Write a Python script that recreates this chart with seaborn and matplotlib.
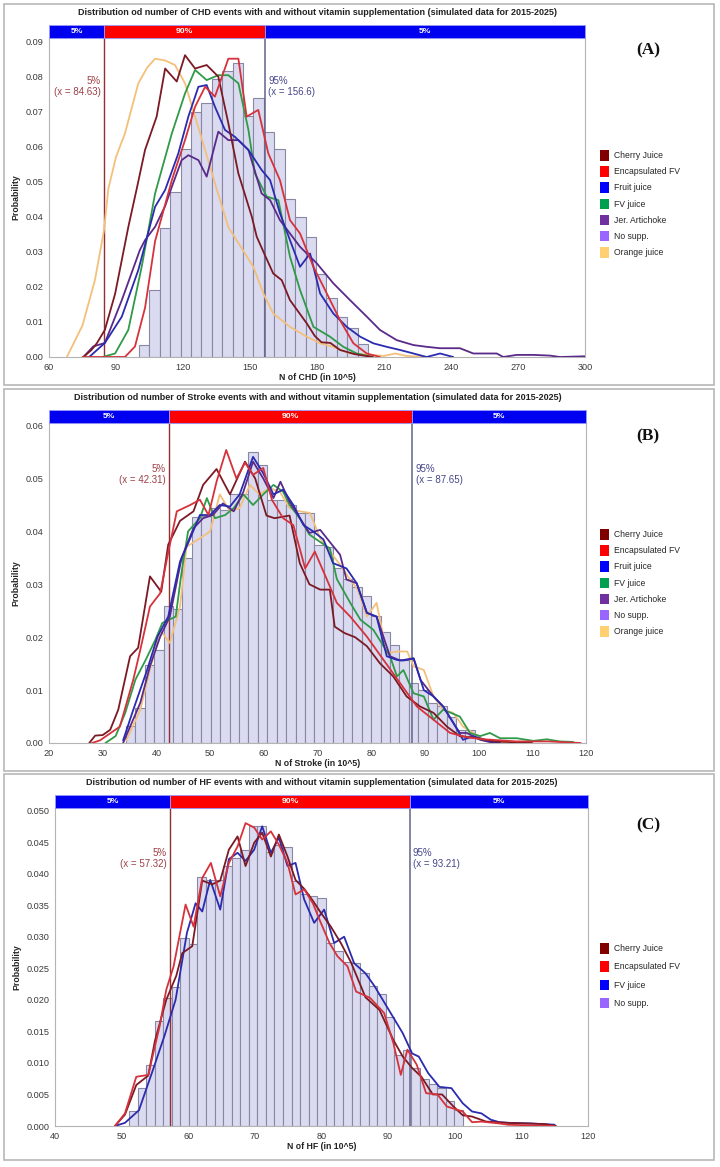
import numpy as np
import pandas as pd
import matplotlib
matplotlib.use("Agg")
import matplotlib.pyplot as plt
import matplotlib.transforms as mtransforms
from matplotlib.patches import Patch, Rectangle
import seaborn as sns

sns.set_theme(style="white")
plt.rcParams['font.family'] = ['Liberation Sans', 'DejaVu Sans']

# ---------------- Panel A : CHD ----------------
A_title = "Distribution od number of CHD events with and without vitamin supplementation (simulated data for 2015-2025)"
A_xlabel = "N of CHD (in 10^5)"
A_p5, A_p95 = 84.63, 156.6
A_bin_start, A_bin_width = 100.3, 4.66
A_nosupp = [0.0035, 0.019, 0.0368, 0.047, 0.0593, 0.0699, 0.0723, 0.0792, 0.0815, 0.0838, 0.0687,
            0.0737, 0.0642, 0.0593, 0.045, 0.0398, 0.0343, 0.0236, 0.0167, 0.0115, 0.0082, 0.0037]
A_cherry_x = [75.4, 79, 81.4, 85, 89.6, 95.5, 99.3, 103, 108.2, 112, 117.2, 120.9, 125.4, 130.6, 135.8,
              140.3, 144.8, 150.8, 153, 156.7, 160.4, 164.2, 167.9, 175.4, 179, 182, 186, 190.3, 197, 205]
A_cherry_y = [0, 0.002, 0.0039, 0.0077, 0.018, 0.037, 0.048, 0.059, 0.0685, 0.0822, 0.0785, 0.086, 0.0822,
              0.0832, 0.0799, 0.0666, 0.0523, 0.040, 0.0343, 0.029, 0.0238, 0.0219, 0.0162, 0.0096, 0.006,
              0.0042, 0.004, 0.002, 0.0008, 0]
A_enc_x = [75, 94, 98.5, 103, 107.5, 115, 120.9, 125.4, 129.9, 134.3, 140.3, 144.8, 148.5, 153.7, 158.2,
           163.4, 167.9, 172.4, 178.4, 184.4, 190.3, 196.3, 202.3, 208.2]
A_enc_y = [0, 0, 0.003, 0.014, 0.033, 0.0504, 0.0618, 0.0713, 0.077, 0.0742, 0.085, 0.085, 0.0685, 0.0704,
           0.058, 0.0504, 0.039, 0.0352, 0.0257, 0.0181, 0.0105, 0.0039, 0.001, 0]
A_fruit_x = [78, 85, 92.6, 100, 107.5, 112, 117.9, 122.4, 126.9, 130.6, 134.3, 138.8, 143.3, 149.3, 155.2,
             159, 163.4, 167.9, 172.4, 176.9, 181.4, 187.3, 193.3, 199.3, 205.2, 211.2, 217.2, 223.2, 229.1,
             235.1, 241]
A_fruit_y = [0, 0.004, 0.0115, 0.0248, 0.0428, 0.0476, 0.058, 0.0685, 0.077, 0.0775, 0.0713, 0.0647, 0.0627,
             0.059, 0.0533, 0.0504, 0.041, 0.0333, 0.0257, 0.0295, 0.0181, 0.0124, 0.0086, 0.0058, 0.0039,
             0.0029, 0.002, 0.001, 0, 0.001, 0]
A_fv_x = [84, 89.6, 95.5, 101.5, 107.5, 115, 120.9, 125.4, 130.6, 135.8, 140.3, 144.8, 149.3, 152.2, 157.5,
          162.7, 167.9, 172.4, 178.4, 185.8, 191.8, 197.8, 205]
A_fv_y = [0, 0.001, 0.0077, 0.0257, 0.0466, 0.0637, 0.0751, 0.0818, 0.0789, 0.0803, 0.0803, 0.078, 0.0647,
          0.0523, 0.0457, 0.0447, 0.0286, 0.0191, 0.0086, 0.0058, 0.0029, 0.001, 0]
A_jer_x = [75.4, 79.8, 85, 92.6, 100.7, 103, 107.5, 112, 115, 119.4, 122.4, 126.9, 130.6, 135.8, 140.3, 144.8,
           149.3, 155.2, 159, 163.4, 172.4, 179.9, 187.3, 194.8, 202.3, 208.2, 215.7, 223.2, 229.1, 235.1,
           244, 250, 256, 260.5, 263.4, 269.4, 276.9, 284.3, 288.8, 300]
A_jer_y = [0, 0.003, 0.004, 0.0162, 0.0305, 0.0333, 0.0371, 0.043, 0.0485, 0.0561, 0.0575, 0.0561, 0.0514,
           0.0642, 0.0618, 0.0618, 0.059, 0.0466, 0.0447, 0.039, 0.0314, 0.0267, 0.021, 0.0162, 0.0115,
           0.0077, 0.0048, 0.0034, 0.0029, 0.0025, 0.0025, 0.001, 0.001, 0.001, 0, 0.0006, 0.0006, 0.0004,
           0, 0.0002]
A_orange_x = [68, 75, 80.6, 84.6, 86.6, 90, 94, 100, 104, 107.5, 112, 116.4, 120.9, 125.4, 129.9, 134.3,
              140.3, 146.3, 151.5, 156, 160.4, 167.9, 175.4, 181.4, 187.3, 194.8, 200, 210, 215, 220, 230]
A_orange_y = [0, 0.009, 0.022, 0.036, 0.048, 0.057, 0.0637, 0.078, 0.0825, 0.085, 0.0845, 0.0832, 0.078,
              0.0685, 0.059, 0.0495, 0.037, 0.031, 0.0257, 0.0181, 0.0124, 0.0086, 0.0058, 0.0039, 0.0029,
              0.001, 0.0008, 0.0003, 0.001, 0.0003, 0]

# ---------------- Panel B : Stroke ----------------
B_title = "Distribution od number of Stroke events with and without vitamin supplementation (simulated data for 2015-2025)"
B_xlabel = "N of Stroke (in 10^5)"
B_p5, B_p95 = 42.31, 87.65
B_bin_start, B_bin_width = 34.3, 1.757
B_nosupp = [0.0033, 0.0067, 0.0148, 0.0176, 0.0259, 0.0253, 0.035, 0.0428, 0.043, 0.0445, 0.044, 0.047,
            0.047, 0.055, 0.0525, 0.046, 0.046, 0.045, 0.0435, 0.0435, 0.0375, 0.037, 0.033, 0.031, 0.0295,
            0.0277, 0.024, 0.021, 0.0185, 0.0157, 0.0113, 0.01, 0.0076, 0.007, 0.005, 0.0025, 0.0024]
B_cherry_x = [27.5, 28.6, 30, 31.4, 32.9, 35.1, 36.6, 38.8, 40.9, 42.2, 44.4, 46.9, 48.7, 51.2, 53.7, 56.5,
              58.4, 60.5, 62, 64.8, 66.7, 68.5, 70.5, 72.3, 73.2, 75, 77, 79.2, 81.6, 84.1, 86.6, 89.1, 91.6,
              94.1, 96.5, 99, 103, 110]
B_cherry_y = [0, 0.0014, 0.0015, 0.0025, 0.0063, 0.0164, 0.018, 0.0315, 0.0286, 0.0375, 0.042, 0.0438,
              0.0488, 0.0518, 0.047, 0.0532, 0.05, 0.043, 0.0425, 0.043, 0.034, 0.03, 0.029, 0.029, 0.022,
              0.0208, 0.02, 0.0183, 0.0151, 0.0126, 0.0088, 0.0069, 0.0057, 0.0031, 0.0013, 0.001, 0.0003, 0]
B_enc_x = [28, 29.5, 33.2, 35.7, 37, 38.8, 40.7, 42.2, 43.8, 46.3, 48.1, 49.7, 51.2, 53, 54.9, 56.5, 58,
           59.9, 61.5, 63.6, 65.5, 67.7, 69.5, 72.3, 73.6, 76.1, 79.2, 82.3, 85.4, 88.5, 91.6, 94.7, 97.8,
           101, 104, 107, 113, 119]
B_enc_y = [0, 0.0005, 0.0031, 0.012, 0.0176, 0.0258, 0.0283, 0.036, 0.0438, 0.045, 0.046, 0.0431, 0.0494,
           0.0554, 0.05, 0.053, 0.0507, 0.052, 0.046, 0.0425, 0.0412, 0.033, 0.0362, 0.0296, 0.0265, 0.0239,
           0.0201, 0.0157, 0.0113, 0.0069, 0.0044, 0.0019, 0.0011, 0.0007, 0.0005, 0.0003, 0.0003, 0]
B_fruit_x = [33.8, 35.7, 38.3, 40.2, 42.2, 44.4, 46.3, 48.1, 50, 51.8, 53.7, 55.5, 58, 59.9, 61.8, 63.6,
             65.5, 67.4, 69.2, 71.1, 72.9, 75.4, 77.3, 79.2, 81, 82.9, 84.8, 86, 87.9, 89.8, 91.6, 93.4,
             95.3, 97.1, 99, 101.5, 104]
B_fruit_y = [0.0005, 0.0063, 0.0139, 0.0201, 0.0239, 0.0343, 0.0387, 0.0431, 0.0431, 0.045, 0.0447, 0.047,
             0.0541, 0.051, 0.047, 0.0479, 0.045, 0.0412, 0.04, 0.0385, 0.034, 0.033, 0.0302, 0.0246, 0.0239,
             0.0164, 0.0157, 0.0156, 0.016, 0.01, 0.0088, 0.0069, 0.0038, 0.0006, 0.0013, 0.0005, 0]
B_fv_x = [30.5, 32.4, 34.2, 36.1, 38, 39.8, 41.1, 43.6, 44.7, 45.9, 48.1, 49.4, 50.9, 52.8, 54.4, 56.2, 58,
          59.9, 61.8, 63.6, 64.8, 66.7, 68.5, 70.5, 72.3, 73.6, 76.1, 78, 80.4, 82.3, 83.5, 84.8, 86, 87.9,
          89.8, 91.6, 93.4, 96.5, 98.4, 100.3, 102.1, 104, 107.1, 110.2, 112.7, 115.1, 117.6]
B_fv_y = [0, 0.0013, 0.0057, 0.012, 0.0157, 0.0195, 0.0227, 0.0239, 0.0324, 0.04, 0.0425, 0.0463, 0.0425,
          0.0431, 0.0444, 0.047, 0.045, 0.047, 0.0488, 0.0475, 0.045, 0.0425, 0.0394, 0.038, 0.0368, 0.031,
          0.0265, 0.0233, 0.0214, 0.0183, 0.0164, 0.0126, 0.0138, 0.0094, 0.0088, 0.0044, 0.0063, 0.005,
          0.0019, 0.0013, 0.0019, 0.0009, 0.0009, 0.0004, 0.0007, 0.0003, 0.0002]
B_jer_x = [33.8, 37, 38.8, 40.7, 42.5, 44.7, 46.9, 48.7, 50.5, 52.4, 54.4, 56.2, 58, 59.9, 61.8, 63.1,
           64.8, 66.7, 68.5, 70.5, 72.3, 74.2, 75.4, 77.3, 79.2, 81, 83.5, 85.4, 87.9, 89.2, 91.6, 93.4,
           95.3, 96.5, 97.8, 100.3, 102.8]
B_jer_y = [0, 0.0076, 0.0145, 0.0201, 0.0239, 0.035, 0.0406, 0.0425, 0.0431, 0.0453, 0.0438, 0.0475,
           0.0532, 0.05, 0.0463, 0.0494, 0.0456, 0.0425, 0.0397, 0.0403, 0.038, 0.0356, 0.0309, 0.0302,
           0.0246, 0.0239, 0.0164, 0.0156, 0.016, 0.0119, 0.0088, 0.0069, 0.0038, 0.0019, 0.0019, 0.0006, 0]
B_orange_x = [34.4, 37, 38.8, 40.7, 42.5, 44.4, 45.6, 48.1, 50, 51.8, 53.7, 55.5, 57.4, 59.2, 61.1, 63,
              64.8, 66.7, 68.6, 70.5, 72.3, 74.2, 76, 77.5, 79.2, 81, 82.9, 84.8, 86.7, 87.9, 89.8, 91.6,
              93.4, 95.3, 97.1, 99, 100.9, 104, 108]
B_orange_y = [0.0005, 0.0063, 0.0139, 0.0214, 0.0189, 0.0258, 0.0371, 0.0387, 0.04, 0.047, 0.0438, 0.0444,
              0.0488, 0.047, 0.0482, 0.0475, 0.0444, 0.0438, 0.0435, 0.0387, 0.0362, 0.0337, 0.031, 0.029,
              0.0239, 0.0265, 0.017, 0.0173, 0.0173, 0.0145, 0.0138, 0.0088, 0.0063, 0.0057, 0.0031, 0.0019,
              0.0006, 0.0001, 0]

# ---------------- Panel C : HF ----------------
C_title = "Distribution od number of HF events with and without vitamin supplementation (simulated data for 2015-2025)"
C_xlabel = "N of HF (in 10^5)"
C_p5, C_p95 = 57.32, 93.21
C_bin_start, C_bin_width = 51.1, 1.285
C_nosupp = [0.0023, 0.006, 0.0096, 0.0167, 0.0203, 0.0221, 0.0298, 0.0288, 0.0395, 0.039, 0.039, 0.0412,
            0.0425, 0.0438, 0.0475, 0.0475, 0.0435, 0.0446, 0.0442, 0.0388, 0.0367, 0.0365, 0.0362, 0.029,
            0.0277, 0.026, 0.0259, 0.0242, 0.0222, 0.021, 0.0173, 0.0113, 0.012, 0.0092, 0.0075, 0.0066,
            0.006, 0.0039, 0.0025]
C_cherry_x = [49, 50.5, 52.2, 54, 55, 56.7, 58.2, 59.1, 60.6, 62.1, 63.6, 64.8, 66.1, 67.4, 68.6, 69.9, 71.1,
              72.4, 73.6, 74.9, 76.1, 77.4, 78.7, 79.9, 81.4, 82.9, 84.4, 86.6, 88.7, 90.8, 92.2, 93.6, 95,
              96.7, 98.1, 99.8, 101.2, 102.6, 104.7, 108, 113.6, 115.2]
C_cherry_y = [0, 0.0018, 0.0065, 0.008, 0.0135, 0.02, 0.0238, 0.0274, 0.0285, 0.0389, 0.0383, 0.0389,
              0.0438, 0.0459, 0.0412, 0.0449, 0.0465, 0.0427, 0.0462, 0.0427, 0.039, 0.0376, 0.0357, 0.0338,
              0.0316, 0.029, 0.026, 0.0204, 0.0184, 0.0136, 0.011, 0.0092, 0.0078, 0.005, 0.005, 0.0031,
              0.0017, 0.0015, 0.0007, 0.0005, 0.0003, 0]
C_enc_x = [49, 50.5, 52.2, 54, 55.7, 56.7, 57.8, 59.6, 60.8, 62.1, 63.4, 64.8, 66.1, 67.4, 68.6, 69.9, 71.1,
           72.4, 73.6, 74.9, 76.1, 77.4, 78.7, 79.9, 81.2, 82.4, 83.9, 85.2, 87.3, 89.4, 90.8, 91.9, 92.9,
           94.3, 95.7, 97.4, 98.8, 101.2, 102.6, 104, 106.7, 108, 115]
C_enc_y = [0, 0.002, 0.0078, 0.0081, 0.0158, 0.0216, 0.0253, 0.0351, 0.0316, 0.0393, 0.0417, 0.0364,
           0.0417, 0.0443, 0.048, 0.0473, 0.0454, 0.0467, 0.0446, 0.0417, 0.0367, 0.0375, 0.0353, 0.0322,
           0.029, 0.0269, 0.0253, 0.0213, 0.0203, 0.0179, 0.0131, 0.0081, 0.0121, 0.0097, 0.0052, 0.005,
           0.0031, 0.0023, 0.0006, 0.0007, 0.0004, 0.0002, 0]
C_fv_x = [49, 50.5, 52.6, 54.7, 56.4, 58.1, 59.8, 61.1, 62.1, 63.3, 64.8, 66.1, 67.4, 68.6, 69.9, 71.1, 72.4,
          73.6, 74.9, 76.1, 77.4, 78.9, 80.4, 81.9, 83.4, 84.9, 86.6, 88, 90.1, 92.2, 93.6, 94.6, 96, 97.7,
          99.5, 101.2, 102.6, 104, 105.4, 106.7, 108.1, 111.5, 115]
C_fv_y = [0, 0.0005, 0.0025, 0.0089, 0.0142, 0.02, 0.0306, 0.0353, 0.034, 0.039, 0.0343, 0.0423, 0.0433,
          0.042, 0.0438, 0.0475, 0.0433, 0.0457, 0.0412, 0.0417, 0.0359, 0.0322, 0.0343, 0.029, 0.03, 0.0258,
          0.0242, 0.0221, 0.0184, 0.0147, 0.0115, 0.011, 0.0084, 0.0062, 0.006, 0.0036, 0.0023, 0.002,
          0.001, 0.0006, 0.0005, 0.0004, 0.0002]

# ---------------- styling ----------------
line_colors = {"Cherry Juice": "#7b1a24", "Encapsulated FV": "#d5323c", "Fruit juice": "#2b2bb0",
               "FV juice": "#2f9a48", "Jer. Artichoke": "#5a2a8a", "Orange juice": "#f3c07c"}
legend_colors = {"Cherry Juice": "#800000", "Encapsulated FV": "#ff0000", "Fruit juice": "#0000ff",
                 "FV juice": "#00a050", "Jer. Artichoke": "#7030a0", "No supp.": "#9966ff",
                 "Orange juice": "#ffd070"}
C_line_colors = {"Cherry Juice": "#7b1a24", "Encapsulated FV": "#d5323c", "FV juice": "#2b2bb0"}
C_legend_colors = {"Cherry Juice": "#800000", "Encapsulated FV": "#ff0000", "FV juice": "#0000ff",
                   "No supp.": "#9966ff"}

W, H = 720, 1167
fig = plt.figure(figsize=(W / 100, H / 100), dpi=100)


def fig_rect(l, t, r, b):
    return [l / W, 1 - b / H, (r - l) / W, (b - t) / H]


def draw_panel(box, xlim, ylim, xticks, yticks, yfmt, title, xlabel, p5, p95,
               bin_start, bin_width, hist, lines, band_h):
    ax = fig.add_axes(fig_rect(*box))
    centers = bin_start + bin_width * (np.arange(len(hist)) + 0.5)
    hdf = pd.DataFrame({"x": np.round(centers, 4), "w": np.asarray(hist, float)})
    sns.barplot(data=hdf, x="x", y="w", native_scale=True, width=1.0, errorbar=None, ax=ax,
                color="#dadaf0", saturation=1, edgecolor="#8888a4", linewidth=0.8)
    ax.axvline(p5, color="#8e3036", lw=1.0, zorder=3)
    ax.axvline(p95, color="#62628a", lw=1.1, zorder=3)
    for color, (xs, ys) in lines.items():
        ldf = pd.DataFrame({"x": xs, "y": ys})
        sns.lineplot(data=ldf, x="x", y="y", ax=ax, color=color, lw=1.3, sort=False,
                     estimator=None, legend=False, zorder=4)
    ax.set_xlim(*xlim)
    ax.set_ylim(*ylim)
    ax.set_xticks(xticks)
    ax.set_xticklabels([str(int(v)) for v in xticks])
    ax.set_yticks(yticks)
    ax.set_yticklabels([yfmt % v for v in yticks])
    ax.tick_params(axis="both", length=0, labelsize=6.6, colors="#3a3a3a", pad=4)
    for s in ax.spines.values():
        s.set_visible(True)
        s.set_color("#b4b4b4")
        s.set_linewidth(0.8)
    ax.set_xlabel(xlabel, fontsize=6.3, fontweight="bold", color="#222222", labelpad=1)
    ax.set_ylabel("Probability", fontsize=6.3, fontweight="bold", color="#222222", labelpad=4)
    tr = mtransforms.blended_transform_factory(ax.transData, ax.transAxes)
    segs = [(xlim[0], p5, "#0000f0", "5%"), (p5, p95, "#ff0000", "90%"), (p95, xlim[1], "#0000f0", "5%")]
    for x0, x1, c, lab in segs:
        ax.add_patch(Rectangle((x0, 1.0), x1 - x0, band_h, transform=tr, clip_on=False,
                               facecolor=c, edgecolor="#9a9aff", lw=0.6, zorder=5))
        ax.text((x0 + x1) / 2, 1.0 + band_h / 2, lab, transform=tr, color="white", fontsize=6.1,
                fontweight="bold", ha="center", va="center", zorder=6)
    ax.text(0.5, 1.0 + band_h + 0.04, title, transform=ax.transAxes, ha="center", va="center",
            fontsize=6.5, fontweight="bold", color="#222222")
    return ax


axA = draw_panel((49, 38, 585, 357), (60, 300), (0, 0.0909), np.arange(60, 301, 30),
                 np.round(np.arange(0, 0.0901, 0.01), 3), "%.2f", A_title, A_xlabel, A_p5, A_p95,
                 A_bin_start, A_bin_width, A_nosupp,
                 {line_colors["Orange juice"]: (A_orange_x, A_orange_y),
                  line_colors["FV juice"]: (A_fv_x, A_fv_y),
                  line_colors["Jer. Artichoke"]: (A_jer_x, A_jer_y),
                  line_colors["Fruit juice"]: (A_fruit_x, A_fruit_y),
                  line_colors["Cherry Juice"]: (A_cherry_x, A_cherry_y),
                  line_colors["Encapsulated FV"]: (A_enc_x, A_enc_y)}, 13 / 319)
axB = draw_panel((49, 423, 586, 743), (20, 120), (0, 0.0605), np.arange(20, 121, 10),
                 np.round(np.arange(0, 0.0601, 0.01), 3), "%.2f", B_title, B_xlabel, B_p5, B_p95,
                 B_bin_start, B_bin_width, B_nosupp,
                 {line_colors["Orange juice"]: (B_orange_x, B_orange_y),
                  line_colors["FV juice"]: (B_fv_x, B_fv_y),
                  line_colors["Jer. Artichoke"]: (B_jer_x, B_jer_y),
                  line_colors["Fruit juice"]: (B_fruit_x, B_fruit_y),
                  line_colors["Cherry Juice"]: (B_cherry_x, B_cherry_y),
                  line_colors["Encapsulated FV"]: (B_enc_x, B_enc_y)}, 13 / 320)
axC = draw_panel((55, 808, 588, 1126), (40, 120), (0, 0.0504), np.arange(40, 121, 10),
                 np.round(np.arange(0, 0.0501, 0.005), 3), "%.3f", C_title, C_xlabel, C_p5, C_p95,
                 C_bin_start, C_bin_width, C_nosupp,
                 {C_line_colors["FV juice"]: (C_fv_x, C_fv_y),
                  C_line_colors["Cherry Juice"]: (C_cherry_x, C_cherry_y),
                  C_line_colors["Encapsulated FV"]: (C_enc_x, C_enc_y)}, 12.6 / 318)

for ax, p5, p95, ytop, fmt95 in [(axA, A_p5, A_p95, 0.0800, "%.1f"), (axB, B_p5, B_p95, 0.0528, "%.2f"),
                                 (axC, C_p5, C_p95, 0.0440, "%.2f")]:
    ax.annotate("5%%\n(x = %.2f)" % p5, xy=(p5, ytop), xytext=(-2.5, 0), textcoords="offset points",
                ha="right", va="top", fontsize=7, color="#9e3f45", linespacing=1.1, zorder=6)
    ax.annotate(("95%%\n(x = " + fmt95 + ")") % p95, xy=(p95, ytop), xytext=(2.5, 0),
                textcoords="offset points", ha="left", va="top", fontsize=7, color="#46468c",
                linespacing=1.1, zorder=6)

leg_font = {"family": ["Liberation Sans Narrow", "Liberation Sans"], "size": 6.2}


def add_legend(colors, top_px, spacing):
    handles = [Patch(facecolor=c, edgecolor="none") for c in colors.values()]
    fig.legend(handles, list(colors.keys()), loc="upper left",
               bbox_to_anchor=(600 / W, 1 - top_px / H), frameon=False, prop=leg_font,
               handlelength=1.1, handleheight=1.5, labelspacing=spacing, handletextpad=0.5,
               borderpad=0, borderaxespad=0)


add_legend(legend_colors, 150, 0.66)
add_legend(legend_colors, 529, 0.66)
add_legend(C_legend_colors, 943, 0.9)

for lab, ypx in [("(A)", 50), ("(B)", 436), ("(C)", 825)]:
    fig.text(648 / W, 1 - ypx / H, lab, ha="center", va="center", fontsize=12.5,
             fontweight="bold", family=["Liberation Serif", "DejaVu Serif"], color="#111111")

for t, b in [(4, 385), (389, 771), (774, 1160)]:
    fig.add_artist(Rectangle((4 / W, 1 - b / H), 710 / W, (b - t) / H, transform=fig.transFigure,
                             fill=False, edgecolor="#b8b8b8", lw=1.2))

fig.savefig("out.png", dpi=100, facecolor="white")
